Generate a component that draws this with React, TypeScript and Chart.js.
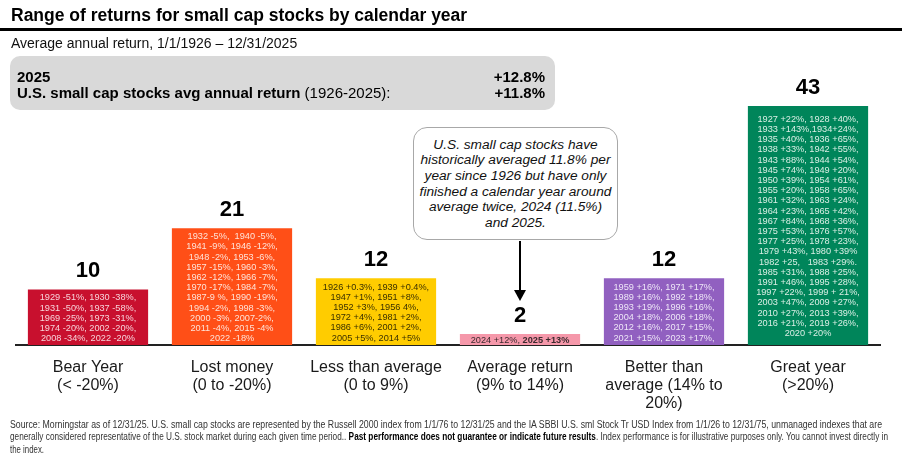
import React, { useEffect, useRef } from "react";
import { Chart, registerables } from "chart.js";

Chart.register(...registerables);

// ---- data ----
const categories: string[][] = [
  ["Bear Year", "(< -20%)"],
  ["Lost money", "(0 to -20%)"],
  ["Less than average", "(0 to 9%)"],
  ["Average return", "(9% to 14%)"],
  ["Better than", "average (14% to", "20%)"],
  ["Great year", "(>20%)"],
];
const yearCounts = [10, 21, 12, 2, 12, 43];

const bearYears = [
  "1929 -51%, 1930 -38%,",
  "1931 -50%, 1937 -58%,",
  "1969 -25%, 1973 -31%,",
  "1974 -20%, 2002 -20%,",
  "2008 -34%, 2022 -20%",
];
const lostMoneyYears = [
  "1932 -5%,  1940 -5%,",
  "1941 -9%, 1946 -12%,",
  "1948 -2%, 1953 -6%,",
  "1957 -15%, 1960 -3%,",
  "1962 -12%, 1966 -7%,",
  "1970 -17%, 1984 -7%,",
  "1987-9 %, 1990 -19%,",
  "1994 -2%, 1998 -3%,",
  "2000 -3%, 2007-2%,",
  "2011 -4%, 2015 -4%",
  "2022 -18%",
];
const lessThanAvgYears = [
  "1926 +0.3%, 1939 +0.4%,",
  "1947 +1%, 1951 +8%,",
  "1952 +3%, 1956 4%,",
  "1972 +4%, 1981 +2%,",
  "1986 +6%, 2001 +2%,",
  "2005 +5%, 2014 +5%",
];
const averageYears = ["2024 +12%, **2025 +13%**"];
const betterYears = [
  "1959 +16%, 1971 +17%,",
  "1989 +16%, 1992 +18%,",
  "1993 +19%, 1996 +16%,",
  "2004 +18%, 2006 +18%,",
  "2012 +16%, 2017 +15%,",
  "2021 +15%, 2023 +17%,",
];
const greatYears = [
  "1927 +22%, 1928 +40%,",
  "1933 +143%,1934+24%,",
  "1935 +40%, 1936 +65%,",
  "1938 +33%, 1942 +55%,",
  "1943 +88%, 1944 +54%,",
  "1945 +74%, 1949 +20%,",
  "1950 +39%, 1954 +61%,",
  "1955 +20%, 1958 +65%,",
  "1961 +32%, 1963 +24%,",
  "1964 +23%, 1965 +42%,",
  "1967 +84%, 1968 +36%,",
  "1975 +53%, 1976 +57%,",
  "1977 +25%, 1978 +23%,",
  "1979 +43%, 1980 +39%",
  "1982 +25,   1983 +29%.",
  "1985 +31%, 1988 +25%,",
  "1991 +46%, 1995 +28%,",
  "1997 +22%, 1999 + 21%,",
  "2003 +47%, 2009 +27%,",
  "2010 +27%, 2013 +39%,",
  "2016 +21%, 2019 +26%,",
  "2020 +20%",
];
const barYearLists = [bearYears, lostMoneyYears, lessThanAvgYears, averageYears, betterYears, greatYears];

const barColors = ["#C8102E", "#FF4F17", "#FFCC00", "#F598AA", "#9160C0", "#00855A"];
const barTextColors = ["#F7D3DA", "#FFE3D8", "#3A3000", "#3A2A2E", "#EEE6F7", "#D9EFE5"];

const yMax = 50;

const FONT = "'Liberation Sans', Arial, sans-serif";

function drawMixed(ctx: CanvasRenderingContext2D, line: string, cx: number, cy: number, color: string) {
  const parts = line.split("**");
  const regular = `9.2px ${FONT}`;
  const bold = `bold 9.2px ${FONT}`;
  let total = 0;
  const widths: number[] = [];
  parts.forEach((p, k) => {
    ctx.font = k % 2 === 1 ? bold : regular;
    const w = ctx.measureText(p).width;
    widths.push(w);
    total += w;
  });
  let x = cx - total / 2;
  ctx.textAlign = "left";
  ctx.textBaseline = "middle";
  ctx.fillStyle = color;
  parts.forEach((p, k) => {
    ctx.font = k % 2 === 1 ? bold : regular;
    ctx.fillText(p, x, cy);
    x += widths[k];
  });
}

const barTextPlugin = {
  id: "barText",
  afterDatasetsDraw(chart: any) {
    const ctx: CanvasRenderingContext2D = chart.ctx;
    const meta = chart.getDatasetMeta(0);
    meta.data.forEach((bar: any, i: number) => {
      const { x, y, base } = bar.getProps(["x", "y", "base"], true);
      ctx.save();
      ctx.font = `bold 22px ${FONT}`;
      ctx.fillStyle = "#000";
      ctx.textAlign = "center";
      ctx.textBaseline = "middle";
      ctx.fillText(String(yearCounts[i]), x, y - 18);
      const lines = barYearLists[i];
      const lh = 10.2;
      const mid = (y + base) / 2 + 1;
      const startY = mid - ((lines.length - 1) * lh) / 2;
      lines.forEach((line, j) => drawMixed(ctx, line, x, startY + j * lh, barTextColors[i]));
      ctx.restore();
    });
    // arrow from annotation box to the "Average return" count
    const avg = meta.data[3];
    if (avg) {
      const { x, y } = avg.getProps(["x", "y"], true);
      const tip = y - 33;
      ctx.save();
      ctx.strokeStyle = "#000";
      ctx.fillStyle = "#000";
      ctx.lineWidth = 2;
      ctx.beginPath();
      ctx.moveTo(x, 241);
      ctx.lineTo(x, tip - 10);
      ctx.stroke();
      ctx.beginPath();
      ctx.moveTo(x - 6, tip - 11);
      ctx.lineTo(x + 6, tip - 11);
      ctx.lineTo(x, tip);
      ctx.closePath();
      ctx.fill();
      ctx.restore();
    }
  },
};

export default function App() {
  const ref = useRef<HTMLCanvasElement>(null);
  const footRef = useRef<HTMLDivElement>(null);
  useEffect(() => {
    document.body.style.margin = "0";
    // fit footer lines to the widths of the reference (condensed text)
    if (footRef.current) {
      const spans = footRef.current.querySelectorAll<HTMLSpanElement>("span[data-w]");
      spans.forEach((s) => {
        s.style.transform = "none";
        const natural = s.getBoundingClientRect().width;
        const target = Number(s.dataset.w);
        if (natural > 0) s.style.transform = `scaleX(${target / natural})`;
      });
    }
    if (!ref.current) return;
    const chart = new Chart(ref.current, {
      type: "bar",
      data: {
        labels: categories,
        datasets: [
          {
            data: yearCounts,
            backgroundColor: barColors,
            borderWidth: 0,
            barPercentage: 0.835,
            categoryPercentage: 1,
          },
        ],
      },
      options: {
        responsive: false,
        animation: false,
        layout: { padding: { top: 67, left: 16, right: 22, bottom: 0 } },
        plugins: { legend: { display: false }, tooltip: { enabled: false } },
        scales: {
          y: { display: false, min: 0, max: yMax },
          x: {
            grid: { display: false, drawTicks: false },
            border: { display: true, color: "#222", width: 2 },
            ticks: {
              color: "#1a1a1a",
              padding: 13,
              maxRotation: 0,
              autoSkip: false,
              font: { family: FONT, size: 16, lineHeight: 1.15 },
            },
            afterFit: (scale: any) => {
              scale.height = 117;
            },
          },
        },
      },
      plugins: [barTextPlugin],
    });
    return () => chart.destroy();
  }, []);

  const abs = (s: React.CSSProperties): React.CSSProperties => ({ position: "absolute", ...s });
  const lineStyle: React.CSSProperties = { display: "inline-block", transformOrigin: "0 0", whiteSpace: "nowrap" };

  return (
    <div style={{ position: "relative", width: 902, height: 462, overflow: "hidden", fontFamily: FONT, background: "#fff" }}>
      <canvas ref={ref} width={902} height={462} style={{ position: "absolute", left: 0, top: 0 }} />
      <div style={abs({ left: 11, top: 5, fontSize: 17.5, lineHeight: "20px", fontWeight: "bold", color: "#000", whiteSpace: "nowrap" })}>
        Range of returns for small cap stocks by calendar year
      </div>
      <div style={abs({ left: 0, top: 28, width: 902, height: 3, background: "#000" })} />
      <div style={abs({ left: 11, top: 35, fontSize: 14, lineHeight: "16px", color: "#111", whiteSpace: "nowrap" })}>
        Average annual return, 1/1/1926 – 12/31/2025
      </div>
      <div style={abs({ left: 10, top: 56, width: 545, height: 54, background: "#d9d9d9", borderRadius: 10 })}>
        <div style={abs({ left: 7, top: 12, fontSize: 15, lineHeight: "17px", fontWeight: "bold", color: "#000", whiteSpace: "nowrap" })}>2025</div>
        <div style={abs({ right: 10, top: 12, fontSize: 15, lineHeight: "17px", fontWeight: "bold", color: "#000", whiteSpace: "nowrap" })}>+12.8%</div>
        <div style={abs({ left: 7, top: 28, fontSize: 15, lineHeight: "17px", color: "#000", whiteSpace: "nowrap" })}>
          <b>U.S. small cap stocks avg annual return</b> (1926-2025):
        </div>
        <div style={abs({ right: 10, top: 28, fontSize: 15, lineHeight: "17px", fontWeight: "bold", color: "#000", whiteSpace: "nowrap" })}>+11.8%</div>
      </div>
      <div
        style={abs({
          left: 413,
          top: 127,
          width: 205,
          height: 113,
          boxSizing: "border-box",
          border: "1.5px solid #a8a8a8",
          borderRadius: 14,
          background: "#fff",
          display: "flex",
          alignItems: "center",
          justifyContent: "center",
          textAlign: "center",
          fontStyle: "italic",
          fontSize: 13.7,
          lineHeight: "15.6px",
          color: "#111",
          whiteSpace: "nowrap",
        })}
      >
        <div>
          U.S. small cap stocks have
          <br />
          historically averaged 11.8% per
          <br />
          year since 1926 but have only
          <br />
          finished a calendar year around
          <br />
          average twice, 2024 (11.5%)
          <br />
          and 2025.
        </div>
      </div>
      <div
        ref={footRef}
        style={abs({
          left: 10,
          top: 419,
          fontSize: 10,
          lineHeight: "12.4px",
          color: "#333",
          whiteSpace: "nowrap",
        })}
      >
        <div>
          <span data-w="872" style={lineStyle}>
            Source: Morningstar as of 12/31/25. U.S. small cap stocks are represented by the Russell 2000 index from 1/1/76 to 12/31/25 and the IA SBBI U.S. sml Stock Tr USD Index from 1/1/26 to 12/31/75, unmanaged indexes that are
          </span>
        </div>
        <div>
          <span data-w="878" style={lineStyle}>
            generally considered representative of the U.S. stock market during each given time period..{" "}
            <b style={{ color: "#000" }}>Past performance does not guarantee or indicate future results</b>. Index performance is for illustrative purposes only. You cannot invest directly in
          </span>
        </div>
        <div>
          <span data-w="34" style={lineStyle}>
            the index.
          </span>
        </div>
      </div>
    </div>
  );
}
